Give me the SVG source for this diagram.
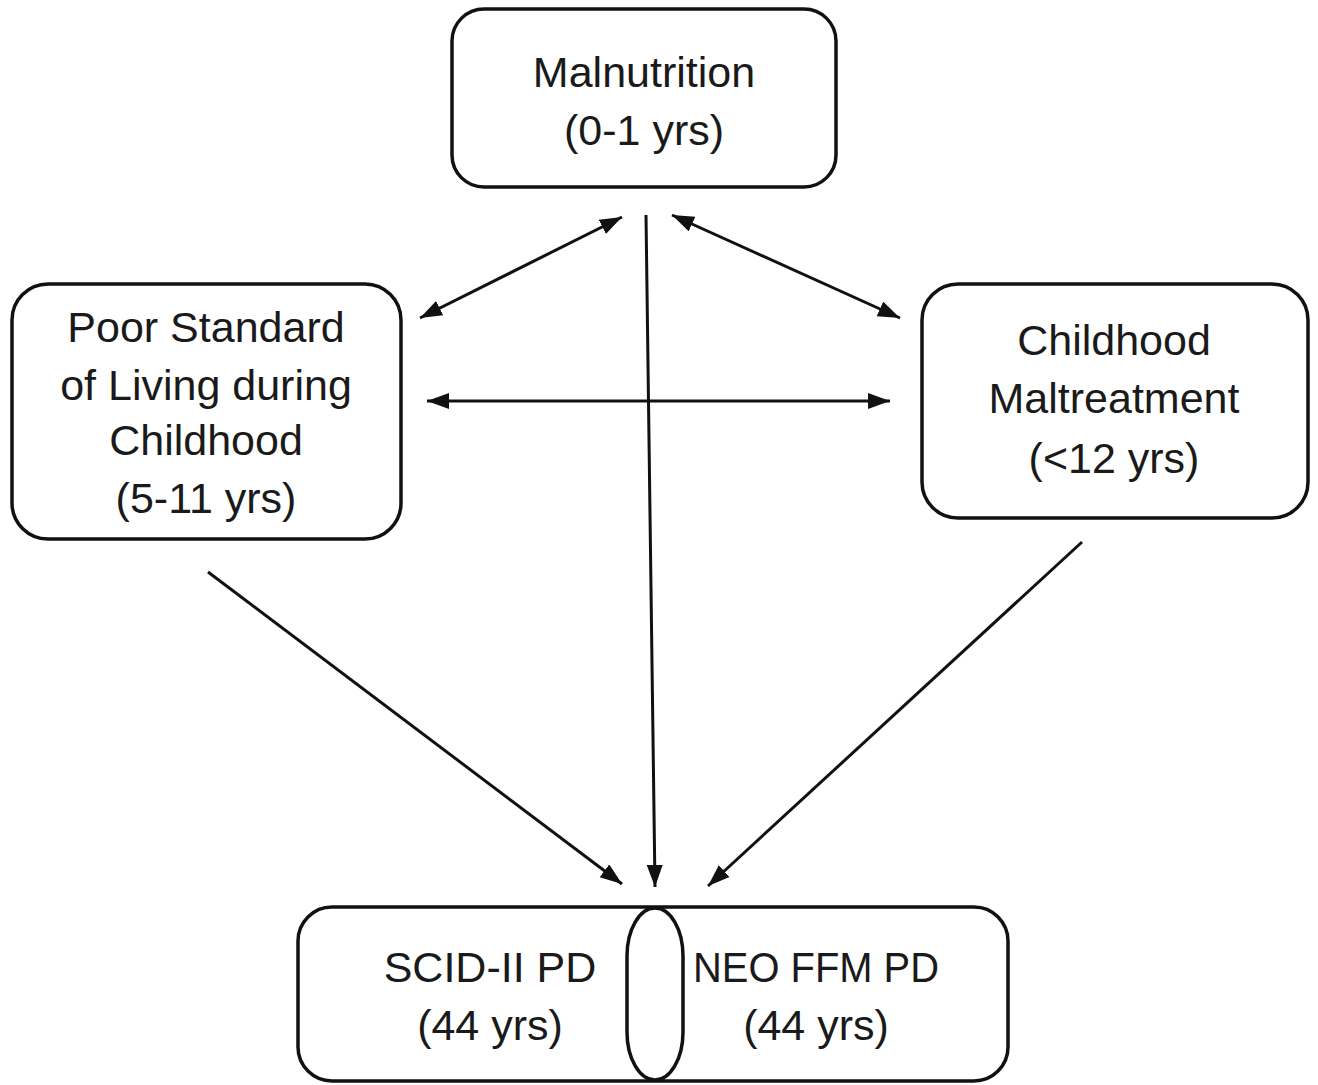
<svg xmlns="http://www.w3.org/2000/svg" width="1318" height="1085" viewBox="0 0 1318 1085">
<defs>
<style>
.box{fill:#fff;stroke:#111;stroke-width:3.5}
.t{font-family:"Liberation Sans",Arial,sans-serif;font-size:43px;fill:#1a1a1a;text-anchor:middle}
.c{stroke:#111;stroke-width:3;fill:none}
</style>
<marker id="ah" markerUnits="userSpaceOnUse" markerWidth="24" markerHeight="18" refX="22" refY="8" orient="auto-start-reverse">
<path d="M0,0 L22,8 L0,16 z" fill="#111"/>
</marker>
</defs>
<rect width="1318" height="1085" fill="#fff"/>
<g id="connectors">
<line class="c" x1="622" y1="217" x2="420" y2="318" marker-start="url(#ah)" marker-end="url(#ah)"/>
<line class="c" x1="672" y1="215" x2="900" y2="318" marker-start="url(#ah)" marker-end="url(#ah)"/>
<line class="c" x1="427" y1="401" x2="890" y2="401" stroke-width="4.5" marker-start="url(#ah)" marker-end="url(#ah)"/>
<line class="c" x1="646" y1="215" x2="655" y2="887" marker-end="url(#ah)"/>
<line class="c" x1="208" y1="572" x2="622" y2="884" marker-end="url(#ah)"/>
<line class="c" x1="1082" y1="542" x2="708" y2="886" marker-end="url(#ah)"/>
</g>
<g id="malnutrition">
<rect class="box" x="452" y="9" width="384" height="178" rx="32"/>
<text class="t" x="644" y="87">Malnutrition</text>
<text class="t" x="644" y="145">(0-1 yrs)</text>
</g>
<g id="poor-standard">
<rect class="box" x="12" y="284" width="389" height="255" rx="36"/>
<text class="t" x="206" y="342">Poor Standard</text>
<text class="t" x="206" y="400">of Living during</text>
<text class="t" x="206" y="455">Childhood</text>
<text class="t" x="206" y="513">(5-11 yrs)</text>
</g>
<g id="maltreatment">
<rect class="box" x="922" y="284" width="386" height="234" rx="36"/>
<text class="t" x="1114" y="355">Childhood</text>
<text class="t" x="1114" y="413">Maltreatment</text>
<text class="t" x="1114" y="473">(&lt;12 yrs)</text>
</g>
<g id="outcome">
<rect class="box" x="298" y="907" width="710" height="174" rx="34"/>
<rect class="box" x="627" y="908" width="56" height="172" rx="28" ry="48"/>
<text class="t" x="490" y="982">SCID-II PD</text>
<text class="t" x="490" y="1040">(44 yrs)</text>
<text class="t" x="816" y="982" textLength="246" lengthAdjust="spacingAndGlyphs">NEO FFM PD</text>
<text class="t" x="816" y="1040">(44 yrs)</text>
</g>
</svg>
